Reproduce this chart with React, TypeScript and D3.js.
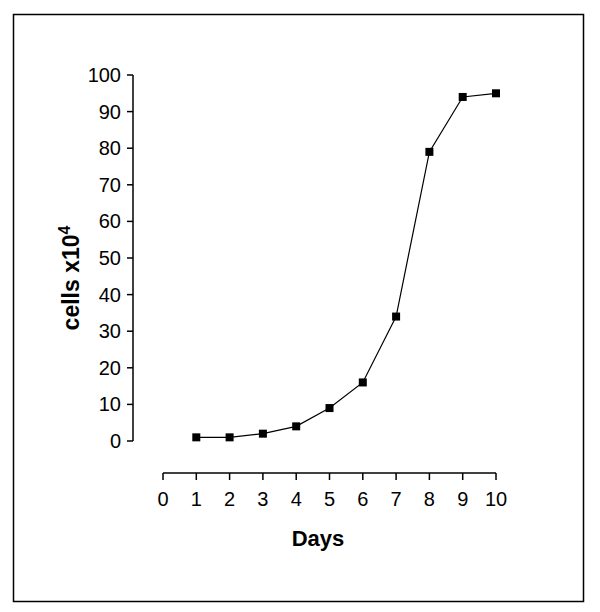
import React from "react";
import * as d3 from "d3";

const days = [1, 2, 3, 4, 5, 6, 7, 8, 9, 10];
const cells = [1, 1, 2, 4, 9, 16, 34, 79, 94, 95];
const xTicks = [0, 1, 2, 3, 4, 5, 6, 7, 8, 9, 10];
const yTicks = [0, 10, 20, 30, 40, 50, 60, 70, 80, 90, 100];

export default function App() {
  const W = 600, H = 612;
  const x = d3.scaleLinear().domain([0, 10]).range([163, 496]);
  const y = d3.scaleLinear().domain([0, 100]).range([441, 75]);
  const line = d3.line<number>().x((_, i) => x(days[i])).y((d) => y(d));
  const font = "'Liberation Sans', Arial, sans-serif";
  const yAxisX = 133;
  const xAxisY = 473;
  return (
    <svg width={W} height={H} style={{ position: "absolute", left: 0, top: 0 }}>
      <rect x={0} y={0} width={W} height={H} fill="#fff" />
      <rect x={13.5} y={14.5} width={570} height={587} fill="none" stroke="#000" strokeWidth={1.5} />
      {/* y axis */}
      <line x1={yAxisX} x2={yAxisX} y1={y(100)} y2={y(0)} stroke="#000" strokeWidth={1.5} />
      {yTicks.map((t) => (
        <g key={t}>
          <line x1={yAxisX - 6} x2={yAxisX} y1={y(t)} y2={y(t)} stroke="#000" strokeWidth={1.5} />
          <text x={121} y={y(t)} dy="0.35em" textAnchor="end" fontFamily={font} fontSize={20}>{t}</text>
        </g>
      ))}
      {/* x axis */}
      <line x1={x(0)} x2={x(10)} y1={xAxisY} y2={xAxisY} stroke="#000" strokeWidth={1.5} />
      {xTicks.map((t) => (
        <g key={t}>
          <line x1={x(t)} x2={x(t)} y1={xAxisY} y2={xAxisY + 7} stroke="#000" strokeWidth={1.5} />
          <text x={x(t)} y={499} dy="0.35em" textAnchor="middle" fontFamily={font} fontSize={20}>{t}</text>
        </g>
      ))}
      <path d={line(cells) || ""} fill="none" stroke="#000" strokeWidth={1.2} />
      {cells.map((c, i) => (
        <rect key={i} x={x(days[i]) - 4} y={y(c) - 4} width={8} height={8} fill="#000" />
      ))}
      <text x={318} y={538} dy="0.35em" textAnchor="middle" fontFamily={font} fontSize={22} fontWeight="bold">Days</text>
      <text transform={`translate(71,278) rotate(-90)`} textAnchor="middle" dy="0.35em" fontFamily={font} fontSize={23} fontWeight="bold">
        cells x10<tspan dy="-9" fontSize={16}>4</tspan>
      </text>
    </svg>
  );
}
